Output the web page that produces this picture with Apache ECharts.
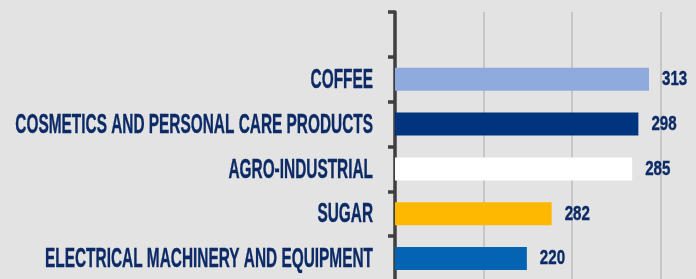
<!DOCTYPE html>
<html>
<head>
<meta charset="utf-8">
<script src="https://cdn.jsdelivr.net/npm/echarts@6/dist/echarts.min.js"></script>
<style>
  html, body { margin: 0; padding: 0; background: #e3e3e3; }
  #chart { width: 696px; height: 279px; }
</style>
</head>
<body>
<div id="chart"></div>
<script>
// categories, top to bottom (top band is empty in the source)
var categories = ['', 'COFFEE', 'COSMETICS AND PERSONAL CARE PRODUCTS', 'AGRO-INDUSTRIAL', 'SUGAR', 'ELECTRICAL MACHINERY AND EQUIPMENT'];
// bar lengths (0,100,200,300)
var barValues = [null, 287, 275, 268, 177, 149];
// numbers printed next to the bars
var labelValues = [null, 313, 298, 285, 282, 220];
var barColors = ['#e3e3e3', '#8faadc', '#00347f', '#ffffff', '#ffb800', '#0563b4'];

var textColor = '#0b2a66';
var chart = echarts.init(document.getElementById('chart'));

// narrow, tall text like the condensed font of the source
function narrowText(x, y, text, size, sx, align) {
  return {
    type: 'text',
    x: x,
    y: y,
    scaleX: sx,
    style: {
      text: text,
      fill: textColor,
      stroke: textColor,
      lineWidth: 0.4,
      font: 'bold ' + size + 'px "Liberation Sans", Arial, sans-serif',
      align: align,
      verticalAlign: 'middle',
      textAlign: align,
      textVerticalAlign: 'middle'
    }
  };
}

var option = {
  backgroundColor: '#e3e3e3',
  animation: false,
  grid: { left: 395, top: 12, right: -53, bottom: -2, containLabel: false, outerBoundsMode: 'none' },
  xAxis: {
    type: 'value',
    min: 0,
    max: 400,
    interval: 100,
    axisLine: { show: false },
    axisTick: { show: false },
    axisLabel: { show: false },
    splitLine: { lineStyle: { color: '#c6c6c6', width: 2 } }
  },
  yAxis: {
    type: 'category',
    inverse: true,
    data: categories,
    axisLine: { show: true, lineStyle: { color: '#3f3f3f', width: 3.5 } },
    axisTick: { show: true, length: 7, lineStyle: { color: '#3f3f3f', width: 3.5 } },
    axisLabel: { show: false }
  },
  series: [
    {
      type: 'bar',
      barWidth: 23,
      data: barValues.map(function (v, i) {
        return { value: v, itemStyle: { color: barColors[i] } };
      })
    },
    {
      // category names
      type: 'custom',
      silent: true,
      clip: false,
      data: categories.map(function (c, i) { return [0, i]; }),
      encode: { x: 0, y: 1 },
      renderItem: function (params, api) {
        var p = api.coord([api.value(0), api.value(1)]);
        return narrowText(p[0] - 22, p[1] + 1, categories[params.dataIndex], 28, 0.55, 'right');
      }
    },
    {
      // value labels
      type: 'custom',
      silent: true,
      clip: false,
      data: barValues.map(function (v, i) { return [v == null ? 0 : v, i]; }),
      encode: { x: 0, y: 1 },
      renderItem: function (params, api) {
        var t = labelValues[params.dataIndex];
        if (t == null) return null;
        var p = api.coord([api.value(0), api.value(1)]);
        return narrowText(p[0] + 13, p[1], String(t), 21, 0.72, 'left');
      }
    }
  ]
};

chart.setOption(option);
</script>
</body>
</html>
